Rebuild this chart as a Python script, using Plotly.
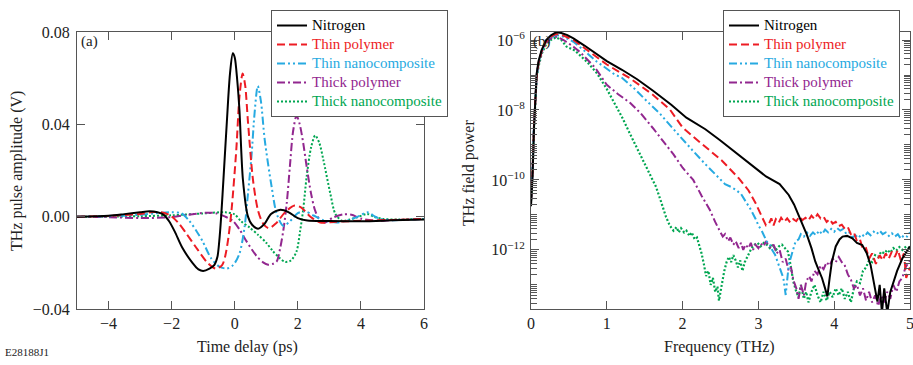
import plotly.graph_objects as go

# ---------------- (a) time-domain pulses ----------------
nitrogen_t = [-5.0, -4.0, -3.5, -3.0, -2.7, -2.45, -2.25, -2.08, -1.9, -1.66, -1.34, -1.15, -1.0, -0.8, -0.65,
              -0.55, -0.49, -0.43, -0.35, -0.25, -0.15, -0.06, 0.0, 0.08, 0.15, 0.26, 0.42, 0.55, 0.74, 0.95,
              1.15, 1.45, 1.7, 2.0, 2.3, 3.0, 4.0, 5.0, 6.0]
nitrogen_v = [0.0, 0.0004, 0.0011, 0.0019, 0.0023, 0.0019, 0.0008, -0.002, -0.0065, -0.0135, -0.020, -0.0228,
              -0.0235, -0.0225, -0.021, -0.0175, -0.0106, 0.0, 0.018, 0.041, 0.062, 0.0708, 0.069, 0.059, 0.046,
              0.016, 0.0, -0.0035, -0.0052, -0.003, 0.0012, 0.003, 0.002, -0.0006, -0.0017, -0.0019, -0.002,
              -0.0016, -0.0012]

thin_poly_t = [-5.0, -4.0, -3.0, -2.6, -2.3, -2.03, -1.8, -1.55, -1.18, -0.86, -0.6, -0.4, -0.3, -0.2, -0.1,
               0.05, 0.15, 0.25, 0.33, 0.42, 0.58, 0.74, 0.9, 1.08, 1.3, 1.6, 1.9, 2.1, 2.4, 2.71, 3.2, 4.0,
               5.0, 6.0]
thin_poly_v = [0.0, 0.0003, 0.0012, 0.002, 0.0018, 0.0004, -0.0025, -0.007, -0.0142, -0.020, -0.0225, -0.021,
               -0.017, -0.009, 0.003, 0.029, 0.052, 0.062, 0.057, 0.041, 0.0158, 0.0026, -0.003, -0.005, -0.003,
               0.002, 0.0048, 0.004, 0.0, -0.0025, -0.0022, -0.0018, -0.0014, -0.001]

thin_nano_t = [-5.0, -4.0, -3.0, -2.5, -2.0, -1.7, -1.44, -1.2, -1.02, -0.75, -0.5, -0.25, -0.05, 0.15, 0.31,
               0.42, 0.53, 0.63, 0.73, 0.83, 0.95, 1.17, 1.33, 1.54, 1.75, 2.0, 2.23, 2.5, 2.8, 3.24, 3.6, 3.9,
               4.2, 4.45, 4.63, 5.0, 6.0]
thin_nano_v = [0.0, 0.0002, 0.0008, 0.0015, 0.0019, 0.0015, -0.0018, -0.0065, -0.0106, -0.018, -0.0215, -0.0225,
               -0.021, -0.016, -0.0047, 0.010, 0.026, 0.045, 0.0566, 0.050, 0.0334, 0.0129, 0.0013, -0.004,
               -0.002, 0.0015, 0.0023, 0.0005, -0.0015, -0.0025, -0.0015, 0.0, 0.0019, 0.0, -0.001, -0.0015,
               -0.001]

thick_poly_t = [-5.0, -4.0, -3.0, -2.0, -1.5, -0.9, -0.6, -0.3, -0.06, 0.15, 0.37, 0.69, 0.9, 1.06, 1.2, 1.33,
                1.45, 1.54, 1.65, 1.75, 1.85, 1.96, 2.06, 2.17, 2.28, 2.42, 2.55, 2.7, 2.87, 3.1, 3.45, 3.7, 4.0,
                4.5, 5.0, 6.0]
thick_poly_v = [0.0, -0.0002, -0.0006, -0.0002, 0.0008, 0.0017, 0.0015, 0.0, -0.0018, -0.0055, -0.0106, -0.017,
                -0.0198, -0.0208, -0.0205, -0.0194, -0.013, -0.006, 0.006, 0.022, 0.037, 0.0437, 0.040, 0.032,
                0.0217, 0.010, 0.0026, -0.0015, -0.0025, -0.0005, 0.0010, 0.0008, -0.0008, -0.0018, -0.0015,
                -0.001]

thick_nano_t = [-5.0, -4.0, -3.0, -2.0, -1.0, -0.3, 0.0, 0.2, 0.47, 0.75, 1.0, 1.2, 1.43, 1.6, 1.78, 1.96, 2.07,
                2.17, 2.28, 2.42, 2.55, 2.68, 2.81, 3.03, 3.19, 3.4, 3.65, 3.88, 4.2, 4.4, 4.7, 5.2, 6.0]
thick_nano_v = [0.0, 0.0, 0.0002, 0.0006, 0.0014, 0.0019, 0.001, -0.002, -0.0047, -0.008, -0.0113, -0.0148,
                -0.018, -0.0196, -0.019, -0.0150, -0.0065, 0.003, 0.0173, 0.030, 0.0352, 0.032, 0.0246, 0.010,
                0.0012, -0.0018, -0.0012, -0.0003, 0.0012, 0.0, -0.001, -0.0012, -0.001]

# ---------------- (b) spectra (log10 of power) ----------------
nitrogen_f = [0, 0.02, 0.04, 0.06, 0.075, 0.1, 0.14, 0.2, 0.26, 0.33, 0.4, 0.48, 0.56, 0.7, 0.87, 1.0, 1.2, 1.4,
              1.61, 1.85, 2.05, 2.3, 2.49, 2.75, 2.93, 3.1, 3.28, 3.4, 3.47, 3.53, 3.64, 3.7, 3.75, 3.8, 3.84,
              3.88, 3.91, 3.94, 3.97, 4.02, 4.07, 4.11, 4.17, 4.24, 4.3, 4.37, 4.43, 4.48, 4.53, 4.57, 4.6, 4.63,
              4.66, 4.7, 4.74, 4.77, 4.83, 4.9, 4.95, 5.0]
nitrogen_logp = [-10.75, -9.9, -8.5, -7.45, -6.95, -6.6, -6.29, -6.0, -5.87, -5.78, -5.8, -5.86, -5.95, -6.15,
                 -6.4, -6.6, -6.85, -7.12, -7.45, -7.85, -8.22, -8.55, -8.86, -9.3, -9.62, -9.9, -10.12, -10.43,
                 -10.7, -11.0, -11.57, -11.95, -12.33, -12.6, -12.81, -13.1, -13.33, -12.8, -12.33, -11.9, -11.7,
                 -11.62, -11.6, -11.67, -11.8, -11.86, -12.1, -12.43, -13.0, -13.48, -13.0, -13.8, -13.1, -13.8,
                 -13.2, -13.0, -12.6, -12.24, -12.05, -11.9]

thin_poly_f = [0, 0.02, 0.04, 0.06, 0.075, 0.1, 0.14, 0.2, 0.26, 0.33, 0.4, 0.48, 0.56, 0.7, 0.87, 1.0, 1.31,
               1.6, 1.83, 2.0, 2.15, 2.3, 2.52, 2.74, 2.87, 2.96, 3.05, 3.1, 3.14, 3.17, 3.2, 3.23, 3.27, 3.3,
               3.34, 3.38, 3.42, 3.46, 3.5, 3.54, 3.58, 3.62, 3.66, 3.7, 3.74, 3.78, 3.82, 3.86, 3.9, 3.94, 3.98,
               4.02, 4.06, 4.1, 4.14, 4.18, 4.22, 4.26, 4.3, 4.34, 4.38, 4.42, 4.46, 4.5, 4.55, 4.6, 4.64, 4.68,
               4.72, 4.76, 4.8, 4.84, 4.88, 4.92, 4.95, 5.0]
thin_poly_logp = [-10.6, -9.8, -8.4, -7.45, -7.0, -6.65, -6.32, -6.03, -5.9, -5.83, -5.85, -5.92, -6.0, -6.22,
                  -6.5, -6.7, -7.1, -7.55, -7.98, -8.5, -8.78, -9.05, -9.45, -9.95, -10.3, -10.65, -11.05, -11.3,
                  -11.25, -11.1, -11.3, -11.12, -11.22, -11.08, -11.2, -11.1, -11.22, -11.12, -11.18, -11.05,
                  -11.15, -11.08, -11.16, -11.02, -11.12, -10.98, -11.1, -11.05, -11.2, -11.12, -11.25, -11.2,
                  -11.32, -11.28, -11.4, -11.35, -11.55, -11.5, -11.75, -11.7, -12.0, -11.95, -12.25, -12.1,
                  -12.4, -12.15, -12.3, -12.1, -12.25, -12.05, -12.2, -12.0, -12.3, -12.1, -12.8, -12.5]

thin_nano_f = [0, 0.02, 0.04, 0.06, 0.075, 0.1, 0.14, 0.2, 0.26, 0.33, 0.4, 0.48, 0.56, 0.7, 0.87, 1.0, 1.1, 1.2,
               1.37, 1.53, 1.7, 1.86, 2.0, 2.15, 2.3, 2.43, 2.5, 2.56, 2.64, 2.7, 2.77, 2.83, 2.9, 2.96, 3.0, 3.05,
               3.08, 3.11, 3.15, 3.18, 3.22, 3.26, 3.3, 3.33, 3.36, 3.38, 3.4, 3.43, 3.46, 3.49, 3.53, 3.56, 3.6,
               3.64, 3.68, 3.72, 3.76, 3.8, 3.84, 3.88, 3.92, 3.96, 4.0, 4.04, 4.08, 4.12, 4.16, 4.2, 4.24, 4.28,
               4.32, 4.36, 4.4, 4.44, 4.48, 4.52, 4.56, 4.6, 4.64, 4.68, 4.72, 4.76, 4.8, 4.84, 4.88, 4.92, 4.96,
               5.0]
thin_nano_logp = [-10.6, -9.8, -8.4, -7.45, -7.0, -6.65, -6.32, -6.05, -5.92, -5.86, -5.88, -5.96, -6.05, -6.3,
                  -6.62, -6.82, -6.98, -7.08, -7.4, -7.75, -8.1, -8.5, -8.85, -9.2, -9.55, -9.85, -10.0, -10.12,
                  -10.2, -10.28, -10.4, -10.6, -10.85, -11.1, -11.3, -11.48, -11.6, -11.76, -11.85, -12.0, -12.14,
                  -12.4, -12.6, -12.81, -13.29, -12.9, -12.43, -12.2, -11.95, -11.76, -11.7, -11.55, -11.62, -11.5,
                  -11.6, -11.5, -11.58, -11.45, -11.55, -11.42, -11.5, -11.4, -11.48, -11.38, -11.45, -11.4,
                  -11.55, -11.5, -11.65, -11.58, -11.66, -11.55, -11.62, -11.5, -11.58, -11.48, -11.55, -11.45,
                  -11.55, -11.5, -11.6, -11.52, -11.62, -11.55, -11.68, -11.58, -11.62, -11.5]

thick_poly_f = [0, 0.02, 0.04, 0.06, 0.075, 0.1, 0.14, 0.2, 0.26, 0.3, 0.36, 0.43, 0.5, 0.56, 0.65, 0.74, 0.85,
                1.0, 1.15, 1.31, 1.45, 1.62, 1.75, 1.88, 2.0, 2.14, 2.25, 2.36, 2.43, 2.47, 2.5, 2.53, 2.56, 2.6,
                2.63, 2.67, 2.7, 2.74, 2.77, 2.8, 2.83, 2.87, 2.9, 2.93, 2.96, 3.0, 3.03, 3.07, 3.1, 3.13, 3.17,
                3.2, 3.24, 3.28, 3.32, 3.36, 3.4, 3.43, 3.46, 3.5, 3.53, 3.56, 3.6, 3.63, 3.67, 3.7, 3.74, 3.78,
                3.82, 3.86, 3.9, 3.94, 3.98, 4.02, 4.06, 4.1, 4.14, 4.18, 4.22, 4.26, 4.3, 4.34, 4.38, 4.42, 4.46,
                4.5, 4.54, 4.58, 4.62, 4.66, 4.7, 4.74, 4.78, 4.82, 4.86, 4.9, 4.94, 4.97, 5.0]
thick_poly_logp = [-10.6, -9.8, -8.4, -7.45, -7.0, -6.7, -6.35, -6.08, -5.95, -5.9, -5.92, -6.0, -6.1, -6.19,
                   -6.35, -6.55, -6.8, -7.28, -7.55, -7.8, -8.1, -8.55, -8.9, -9.27, -9.65, -10.0, -10.45, -10.86,
                   -11.2, -11.4, -11.5, -11.62, -11.55, -11.75, -11.65, -11.85, -11.75, -11.95, -11.8, -12.0,
                   -11.85, -11.95, -11.8, -12.0, -11.85, -11.95, -11.82, -11.9, -11.75, -11.85, -11.95, -11.85,
                   -12.1, -12.0, -12.35, -12.25, -12.6, -12.5, -12.85, -13.1, -13.4, -13.0, -13.3, -12.9, -12.75,
                   -12.9, -12.6, -12.7, -12.45, -12.55, -12.35, -12.45, -12.25, -12.35, -12.2, -12.35, -12.45,
                   -12.7, -12.85, -13.1, -13.0, -13.3, -13.1, -13.45, -13.2, -13.5, -13.3, -13.6, -13.3, -13.5,
                   -13.2, -13.4, -13.0, -13.2, -12.9, -12.8, -12.5, -12.4, -12.3]

thick_nano_f = [0, 0.02, 0.04, 0.06, 0.075, 0.1, 0.14, 0.2, 0.26, 0.33, 0.4, 0.47, 0.58, 0.75, 0.87, 1.0, 1.1,
                1.2, 1.31, 1.4, 1.48, 1.56, 1.65, 1.72, 1.78, 1.83, 1.88, 1.92, 1.95, 1.98, 2.02, 2.05, 2.09, 2.12,
                2.16, 2.19, 2.22, 2.25, 2.28, 2.31, 2.34, 2.37, 2.4, 2.43, 2.46, 2.48, 2.5, 2.52, 2.55, 2.58,
                2.61, 2.64, 2.67, 2.7, 2.73, 2.76, 2.79, 2.82, 2.85, 2.88, 2.91, 2.95, 2.99, 3.03, 3.07, 3.11,
                3.15, 3.19, 3.23, 3.27, 3.31, 3.35, 3.39, 3.43, 3.46, 3.5, 3.53, 3.56, 3.6, 3.63, 3.66, 3.7,
                3.74, 3.78, 3.82, 3.86, 3.9, 3.94, 3.98, 4.02, 4.06, 4.1, 4.14, 4.18, 4.22, 4.26, 4.3, 4.34,
                4.38, 4.42, 4.46, 4.5, 4.54, 4.58, 4.62, 4.66, 4.7, 4.74, 4.78, 4.82, 4.86, 4.9, 4.95, 5.0]
thick_nano_logp = [-10.6, -9.8, -8.5, -7.5, -7.05, -6.75, -6.4, -6.12, -6.0, -5.92, -6.0, -6.19, -6.3, -6.65,
                   -6.95, -7.4, -7.8, -8.2, -8.7, -9.1, -9.45, -9.8, -10.2, -10.65, -11.05, -11.3, -11.45, -11.35,
                   -11.5, -11.38, -11.5, -11.45, -11.6, -11.5, -11.7, -11.65, -11.85, -12.1, -12.4, -12.75, -12.6,
                   -13.0, -12.8, -13.2, -13.05, -13.45, -13.2, -12.9, -12.6, -12.35, -12.2, -12.35, -12.15, -12.3,
                   -12.5, -12.3, -12.6, -12.35, -12.2, -12.05, -11.95, -11.85, -11.8, -11.9, -11.8, -11.85, -11.95,
                   -11.85, -12.0, -11.9, -11.85, -11.95, -12.05, -12.5, -12.9, -13.2, -13.35, -13.0, -13.4, -13.2,
                   -13.5, -13.2, -13.0, -13.3, -13.5, -13.2, -13.45, -13.2, -13.35, -13.1, -13.3, -13.1, -13.4,
                   -13.2, -13.5, -13.1, -12.9, -12.95, -12.6, -12.5, -12.3, -12.35, -12.15, -12.2, -12.05, -12.1,
                   -12.0, -12.08, -11.95, -12.02, -11.92, -12.0, -11.9, -11.95]

series_names = ["Nitrogen", "Thin polymer", "Thin nanocomposite", "Thick polymer", "Thick nanocomposite"]
colors = ["#000000", "#ED1C24", "#27AAE1", "#92278F", "#00A651"]
dashes = ["solid", "8px,4px", "8px,3px,2px,3px,2px,3px", "8px,3px,2px,3px", "2px,2px"]

time_data = [(nitrogen_t, nitrogen_v), (thin_poly_t, thin_poly_v), (thin_nano_t, thin_nano_v),
             (thick_poly_t, thick_poly_v), (thick_nano_t, thick_nano_v)]
freq_data = [(nitrogen_f, nitrogen_logp), (thin_poly_f, thin_poly_logp), (thin_nano_f, thin_nano_logp),
             (thick_poly_f, thick_poly_logp), (thick_nano_f, thick_nano_logp)]

FONT = "Liberation Serif, Times New Roman, serif"
TXT = "#222222"
fig = go.Figure()


def legend_name(i):
    return f"<span style='color:{colors[i]};font-size:15px'>{series_names[i]}</span>"


order = [4, 3, 2, 1, 0]  # black drawn last (on top)
for i in order:
    t, v = time_data[i]
    fig.add_trace(go.Scatter(
        x=t, y=v, mode="lines",
        line=dict(color=colors[i], width=2, dash=dashes[i], shape="spline", smoothing=0.8),
        name=legend_name(i), legend="legend", legendrank=i + 1, xaxis="x", yaxis="y"))
for i in order:
    f, lp = freq_data[i]
    fig.add_trace(go.Scatter(
        x=f, y=[10.0 ** p for p in lp], mode="lines",
        line=dict(color=colors[i], width=2 if i != 4 else 2.2, dash=dashes[i]),
        name=legend_name(i), legend="legend2", legendrank=i + 1, xaxis="x2", yaxis="y2"))

W, H = 913, 365


def px_x(p):
    return p / W


def px_y(p):
    return 1 - p / H


axis_common = dict(showline=True, linecolor="#555555", linewidth=1, mirror="ticks", ticks="inside",
                   tickcolor="#555555", tickwidth=1, ticklen=8, showgrid=False, zeroline=False,
                   tickfont=dict(family=FONT, size=16, color=TXT), automargin=False,
                   ticklabeloverflow="allow")

label_decades = [-12, -10, -8, -6]
minor_vals = [m * 10.0 ** d for d in range(-14, -5) for m in range(1, 10)
              if not (m == 1 and d in label_decades)]


def ann(text, x, y, size=16, angle=0, xanchor="center"):
    return dict(text=text, x=px_x(x), y=px_y(y), xref="paper", yref="paper", xanchor=xanchor,
                yanchor="middle", textangle=angle, showarrow=False, font=dict(family=FONT, size=size, color=TXT))


fig.update_layout(
    width=W, height=H, margin=dict(l=0, r=0, t=0, b=0),
    paper_bgcolor="white", plot_bgcolor="white",
    font=dict(family=FONT, size=16, color=TXT),
    xaxis=dict(domain=[px_x(77), px_x(424)], range=[-5, 6], tickvals=[-4, -2, 0, 2, 4, 6], anchor="y",
               **axis_common),
    yaxis=dict(domain=[px_y(309), px_y(32)], range=[-0.04, 0.08], tickvals=[-0.04, 0.0, 0.04, 0.08],
               ticktext=["−0.04", "0.00", "0.04", "0.08"], anchor="x", ticklabelstandoff=3, **axis_common),
    xaxis2=dict(domain=[px_x(531), px_x(910)], range=[0, 5], tickvals=[0, 1, 2, 3, 4, 5], anchor="y2",
                **axis_common),
    yaxis2=dict(domain=[px_y(309), px_y(32)], type="log", range=[-13.69, -5.77],
                tickvals=[10.0 ** d for d in label_decades],
                ticktext=[f"10<sup>−{-d}</sup>" for d in label_decades],
                anchor="x2", ticklabelstandoff=2,
                minor=dict(ticks="inside", ticklen=6, tickcolor="#555555", tickvals=minor_vals),
                **axis_common),
    legend=dict(x=px_x(271), y=px_y(10), xanchor="left", yanchor="top", bgcolor="white",
                bordercolor="#555555", borderwidth=1, font=dict(family=FONT, size=11), itemwidth=30,
                tracegroupgap=0),
    legend2=dict(x=px_x(723), y=px_y(10), xanchor="left", yanchor="top", bgcolor="white",
                 bordercolor="#555555", borderwidth=1, font=dict(family=FONT, size=11), itemwidth=30,
                 tracegroupgap=0),
    showlegend=True,
    annotations=[
        ann("THz pulse amplitude (V)", 17, 171, angle=-90),
        ann("Time delay (ps)", 247, 347),
        ann("THz field power", 469, 173, angle=-90),
        ann("Frequency (THz)", 719, 347),
        ann("(a)", 79, 42, size=15, xanchor="left"),
        ann("(b)", 531, 42, size=15, xanchor="left"),
        ann("E28188J1", 3, 352, size=11, xanchor="left"),
    ],
)

fig.write_html("out.html", config={"displayModeBar": False},
               post_script="document.body.style.margin='0';document.body.style.overflow='hidden';")
